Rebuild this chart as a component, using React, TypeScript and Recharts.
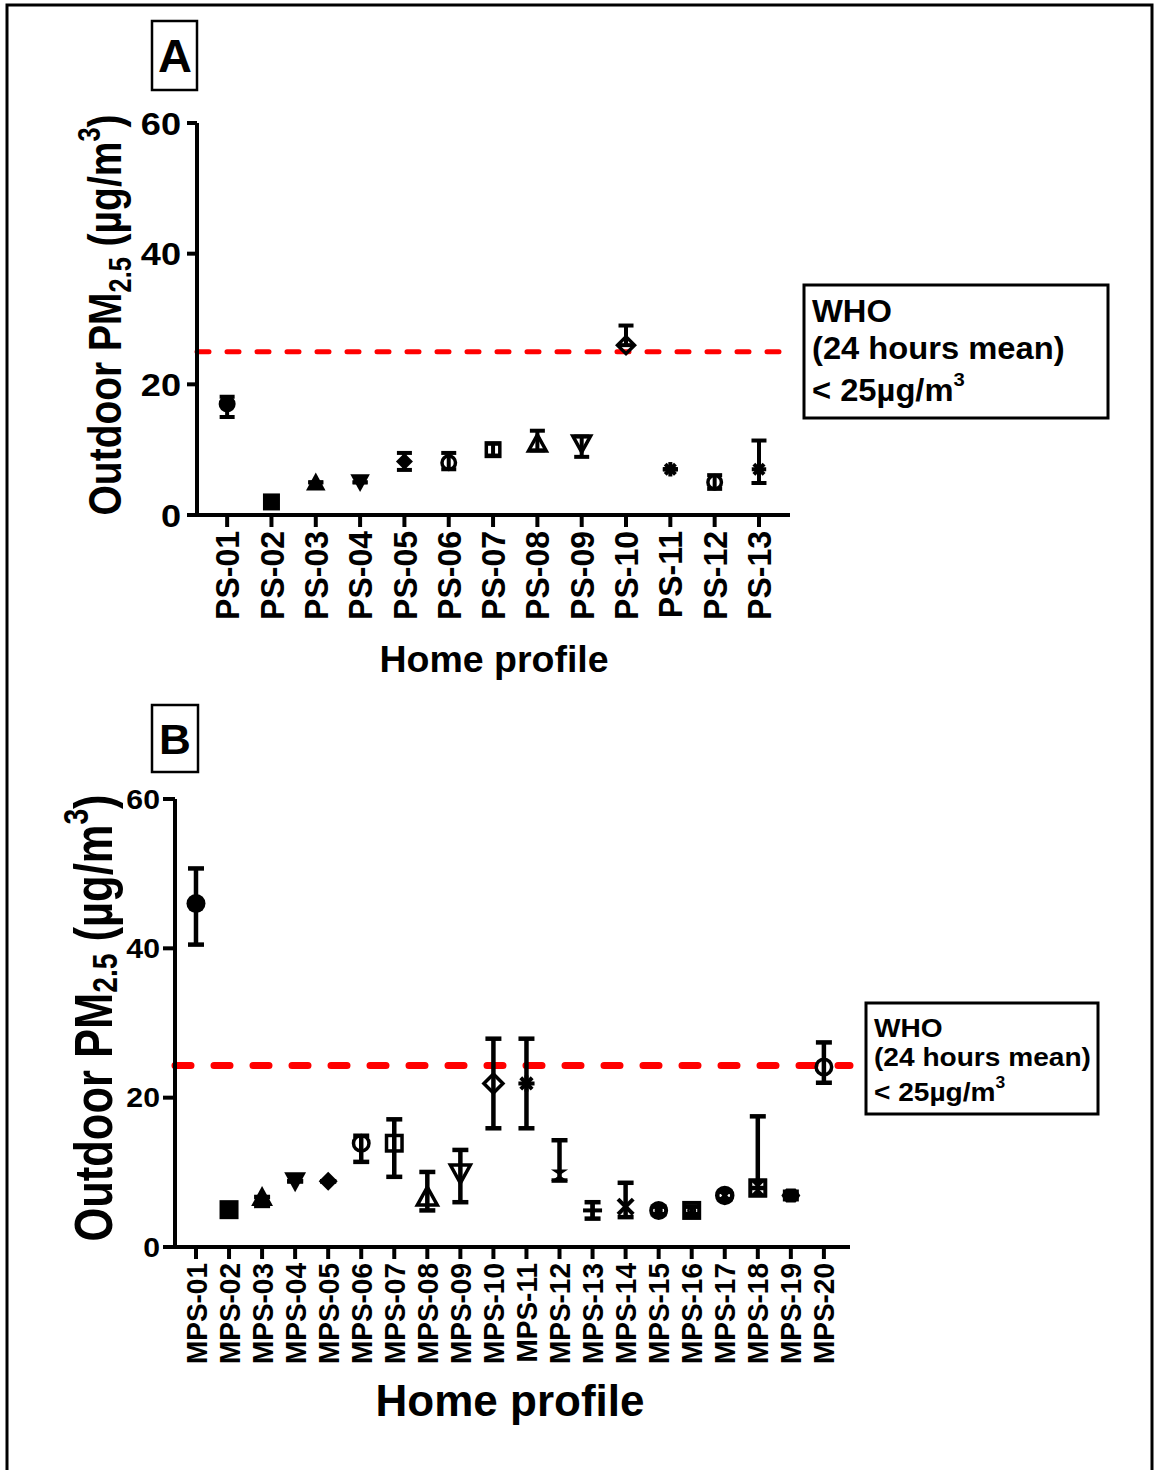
import React from 'react';
import { ScatterChart, Scatter, XAxis, YAxis, ErrorBar, ReferenceLine } from 'recharts';

// ---------- Panel A data ----------
const CATEGORIES_A = ['PS-01', 'PS-02', 'PS-03', 'PS-04', 'PS-05', 'PS-06', 'PS-07', 'PS-08', 'PS-09', 'PS-10', 'PS-11', 'PS-12', 'PS-13'];
const MEANS_A = [17.0, 2.0, 5.0, 5.0, 8.2, 8.0, 10.0, 10.9, 11.0, 26.0, 7.0, 5.0, 7.0];
const ERR_LOW_A = [2.0, 0, 0, 0, 1.3, 1.0, 0.9, 1.0, 2.1, 0, 0, 1.0, 2.1];
const ERR_HIGH_A = [1.1, 0, 0, 0, 1.3, 1.5, 0.9, 2.0, 1.0, 3.0, 0, 1.1, 4.4];
const Y_TICKS = [0, 20, 40, 60];
const WHO_LIMIT_A = 25;

// ---------- Panel B data ----------
const CATEGORIES_B = ['MPS-01', 'MPS-02', 'MPS-03', 'MPS-04', 'MPS-05', 'MPS-06', 'MPS-07', 'MPS-08', 'MPS-09', 'MPS-10', 'MPS-11', 'MPS-12', 'MPS-13', 'MPS-14', 'MPS-15', 'MPS-16', 'MPS-17', 'MPS-18', 'MPS-19', 'MPS-20'];
const MEANS_B = [46.0, 5.0, 6.7, 8.8, 8.8, 13.9, 13.9, 6.7, 9.9, 21.9, 21.9, 9.6, 4.9, 5.4, 4.9, 4.9, 6.9, 7.9, 6.9, 24.1];
const ERR_LOW_B = [5.5, 0, 1.2, 0, 0, 2.5, 4.5, 1.8, 3.9, 6.0, 6.0, 0.7, 1.1, 1.4, 0.5, 0.5, 0.5, 0, 0.5, 2.1];
const ERR_HIGH_B = [4.7, 0, 0, 0, 0, 1.0, 3.2, 3.35, 3.1, 6.0, 6.0, 4.7, 1.1, 3.2, 0.5, 0.5, 0.5, 9.6, 0.5, 3.3];
const WHO_LIMIT_B = 24.3;

// marker styles (GraphPad-like symbol series)
const SHAPES_A = ['circleF', 'squareF', 'triUpF', 'triDownF', 'diamondF', 'circleO', 'squareO', 'triUpO', 'triDownO', 'diamondO', 'asterisk', 'circleO', 'asterisk'];
const SHAPES_B = ['circleF', 'squareF', 'triUpF', 'triDownF', 'diamondF', 'circleO', 'squareO', 'triUpO', 'triDownO', 'diamondO', 'asterisk', 'hourglass', 'plus', 'cross', 'circleDot', 'squareCircle', 'circleX', 'squareX', 'hexagon', 'circleO'];

const dataA = CATEGORIES_A.map((name, i) => ({ idx: i + 1, name, value: MEANS_A[i], err: [ERR_LOW_A[i], ERR_HIGH_A[i]] }));
const dataB = CATEGORIES_B.map((name, i) => ({ idx: i + 1, name, value: MEANS_B[i], err: [ERR_LOW_B[i], ERR_HIGH_B[i]] }));

const FONT = '"Liberation Sans", Arial, Helvetica, sans-serif';

function Marker({ cx, cy, kind, r }: { cx: number; cy: number; kind: string; r: number }) {
  const sw = 3.5;
  const k = '#000';
  switch (kind) {
    case 'circleF':
      return <circle cx={cx} cy={cy} r={r} fill={k} />;
    case 'circleO':
      return <circle cx={cx} cy={cy} r={r - sw / 2} fill="none" stroke={k} strokeWidth={sw} />;
    case 'squareF':
      return <rect x={cx - r} y={cy - r} width={2 * r} height={2 * r} fill={k} />;
    case 'squareO':
      return <rect x={cx - r + sw / 2} y={cy - r + sw / 2} width={2 * r - sw} height={2 * r - sw} fill="none" stroke={k} strokeWidth={sw} />;
    case 'triUpF':
      return <polygon points={`${cx},${cy - r * 1.15} ${cx + r * 1.15},${cy + r * 0.95} ${cx - r * 1.15},${cy + r * 0.95}`} fill={k} />;
    case 'triDownF':
      return <polygon points={`${cx},${cy + r * 1.15} ${cx + r * 1.15},${cy - r * 0.95} ${cx - r * 1.15},${cy - r * 0.95}`} fill={k} />;
    case 'triUpO':
      return <polygon points={`${cx},${cy - r * 1.05} ${cx + r * 1.05},${cy + r * 0.85} ${cx - r * 1.05},${cy + r * 0.85}`} fill="none" stroke={k} strokeWidth={sw} strokeLinejoin="miter" />;
    case 'triDownO':
      return <polygon points={`${cx},${cy + r * 1.05} ${cx + r * 1.05},${cy - r * 0.85} ${cx - r * 1.05},${cy - r * 0.85}`} fill="none" stroke={k} strokeWidth={sw} strokeLinejoin="miter" />;
    case 'diamondF':
      return <polygon points={`${cx},${cy - r} ${cx + r},${cy} ${cx},${cy + r} ${cx - r},${cy}`} fill={k} />;
    case 'diamondO':
      return <polygon points={`${cx},${cy - r} ${cx + r},${cy} ${cx},${cy + r} ${cx - r},${cy}`} fill="none" stroke={k} strokeWidth={sw} />;
    case 'asterisk': {
      const a = r * 0.85;
      const d = a * 0.7071;
      return (
        <g stroke={k} strokeWidth={4}>
          <line x1={cx - a} y1={cy} x2={cx + a} y2={cy} />
          <line x1={cx} y1={cy - a} x2={cx} y2={cy + a} />
          <line x1={cx - d} y1={cy - d} x2={cx + d} y2={cy + d} />
          <line x1={cx - d} y1={cy + d} x2={cx + d} y2={cy - d} />
        </g>
      );
    }
    case 'hourglass':
      return <polygon points={`${cx - r * 0.9},${cy - r * 0.6} ${cx + r * 0.9},${cy - r * 0.6} ${cx - r * 0.9},${cy + r * 0.6} ${cx + r * 0.9},${cy + r * 0.6}`} fill={k} />;
    case 'plus':
      return (
        <g stroke={k} strokeWidth={4}>
          <line x1={cx - r} y1={cy} x2={cx + r} y2={cy} />
          <line x1={cx} y1={cy - r} x2={cx} y2={cy + r} />
        </g>
      );
    case 'cross':
      return (
        <g stroke={k} strokeWidth={4}>
          <line x1={cx - r * 0.8} y1={cy - r * 0.8} x2={cx + r * 0.8} y2={cy + r * 0.8} />
          <line x1={cx - r * 0.8} y1={cy + r * 0.8} x2={cx + r * 0.8} y2={cy - r * 0.8} />
        </g>
      );
    case 'circleDot':
      return (
        <g>
          <circle cx={cx} cy={cy} r={r - 2} fill="none" stroke={k} strokeWidth={4} />
          <circle cx={cx} cy={cy} r={r * 0.3} fill="none" stroke={k} strokeWidth={2.5} />
        </g>
      );
    case 'squareCircle':
      return (
        <g>
          <rect x={cx - r + 2} y={cy - r + 2} width={2 * r - 4} height={2 * r - 4} fill="none" stroke={k} strokeWidth={4} />
          <circle cx={cx} cy={cy} r={r * 0.35} fill="none" stroke={k} strokeWidth={2.5} />
        </g>
      );
    case 'circleX':
      return (
        <g>
          <circle cx={cx} cy={cy} r={r - 2} fill="none" stroke={k} strokeWidth={4.5} />
          <line x1={cx - r * 0.55} y1={cy - r * 0.55} x2={cx + r * 0.55} y2={cy + r * 0.55} stroke={k} strokeWidth={3.5} />
          <line x1={cx - r * 0.55} y1={cy + r * 0.55} x2={cx + r * 0.55} y2={cy - r * 0.55} stroke={k} strokeWidth={3.5} />
        </g>
      );
    case 'squareX':
      return (
        <g>
          <rect x={cx - r + 2} y={cy - r + 2} width={2 * r - 4} height={2 * r - 4} fill="none" stroke={k} strokeWidth={4} />
          <polygon points={`${cx - r},${cy - r} ${cx + r},${cy - r} ${cx},${cy}`} fill={k} />
          <polygon points={`${cx - r},${cy + r} ${cx + r},${cy + r} ${cx},${cy}`} fill={k} />
        </g>
      );
    case 'hexagon': {
      const pts = [0, 1, 2, 3, 4, 5].map((i) => {
        const ang = (Math.PI / 3) * i;
        return `${cx + r * Math.cos(ang)},${cy + r * 0.85 * Math.sin(ang)}`;
      });
      return <polygon points={pts.join(' ')} fill={k} />;
    }
    default:
      return <circle cx={cx} cy={cy} r={r} fill={k} />;
  }
}

function makeShape(shapes: string[], r: number) {
  return (props: any) => {
    const { cx, cy, payload } = props;
    if (cx == null || cy == null) return <g />;
    return <Marker cx={cx} cy={cy} kind={shapes[payload.idx - 1]} r={r} />;
  };
}

function makeXTick(labels: string[], fontSize: number, sx: number) {
  return (props: any) => {
    const { x, y, payload } = props;
    const label = labels[Math.round(payload.value) - 1];
    if (!label) return <g />;
    return (
      <text
        transform={`translate(${x},${y}) scale(${sx},1) rotate(-90)`}
        textAnchor="end"
        dy="0.36em"
        fontFamily={FONT}
        fontWeight="bold"
        fontSize={fontSize}
        fill="#000"
      >
        {label}
      </text>
    );
  };
}

function makeYTick(fontSize: number, sx: number) {
  return (props: any) => {
    const { x, y, payload } = props;
    return (
      <text
        transform={`translate(${x},${y}) scale(${sx},1)`}
        textAnchor="end"
        dy="0.36em"
        fontFamily={FONT}
        fontWeight="bold"
        fontSize={fontSize}
        fill="#000"
      >
        {payload.value}
      </text>
    );
  };
}

function YLabel({ x, y, fontSize, sx, sub }: { x: number; y: number; fontSize: number; sx: number; sub: number }) {
  return (
    <text
      transform={`translate(${x},${y}) scale(${sx},1) rotate(-90)`}
      textAnchor="middle"
      fontFamily={FONT}
      fontWeight="bold"
      fontSize={fontSize}
      fill="#000"
    >
      <tspan>Outdoor PM</tspan>
      <tspan fontSize={fontSize * 0.65} dy={fontSize * sub}>2.5</tspan>
      <tspan dy={-fontSize * sub}> (µg/m</tspan>
      <tspan fontSize={fontSize * 0.65} dy={-fontSize * 0.45}>3</tspan>
      <tspan dy={fontSize * 0.45}>)</tspan>
    </text>
  );
}

function SText({ x, y, fontSize, sx, anchor, children }: { x: number; y: number; fontSize: number; sx: number; anchor?: string; children: any }) {
  return (
    <text
      transform={`translate(${x},${y}) scale(${sx},1)`}
      textAnchor={anchor || 'start'}
      fontFamily={FONT}
      fontWeight="bold"
      fontSize={fontSize}
      fill="#000"
    >
      {children}
    </text>
  );
}

function WhoBox({ x, y, w, h, fontSize, sx, lines }: { x: number; y: number; w: number; h: number; fontSize: number; sx: number; lines: number[] }) {
  return (
    <g>
      <rect x={x} y={y} width={w} height={h} fill="#fff" stroke="#000" strokeWidth={3} />
      <SText x={x + 8} y={lines[0]} fontSize={fontSize} sx={sx}>WHO</SText>
      <SText x={x + 8} y={lines[1]} fontSize={fontSize} sx={sx}>(24 hours mean)</SText>
      <SText x={x + 8} y={lines[2]} fontSize={fontSize} sx={sx}>
        <tspan>&lt; 25µg/m</tspan>
        <tspan fontSize={fontSize * 0.62} dy={-fontSize * 0.5}>3</tspan>
      </SText>
    </g>
  );
}

export default function App() {
  return (
    <div style={{ position: 'absolute', left: 0, top: 0, width: 1155, height: 1470, background: '#fff', overflow: 'hidden' }}>
      {/* Panel A */}
      <div style={{ position: 'absolute', left: 0, top: 0 }}>
        <ScatterChart width={1155} height={700} margin={{ top: 123, right: 365, bottom: 75, left: 137 }}>
          <XAxis
            type="number"
            dataKey="idx"
            domain={[0.32, 13.7]}
            ticks={CATEGORIES_A.map((_, i) => i + 1)}
            interval={0}
            height={110}
            axisLine={{ stroke: '#000', strokeWidth: 4 }}
            tickLine={{ stroke: '#000', strokeWidth: 4 }}
            tickSize={12}
            tickMargin={4}
            tick={makeXTick(CATEGORIES_A, 32, 1.05)}
          />
          <YAxis
            type="number"
            dataKey="value"
            domain={[0, 60]}
            ticks={Y_TICKS}
            interval={0}
            width={60}
            axisLine={{ stroke: '#000', strokeWidth: 4 }}
            tickLine={{ stroke: '#000', strokeWidth: 4 }}
            tickSize={10}
            tickMargin={6}
            tick={makeYTick(32, 1.13)}
          />
          <ReferenceLine y={WHO_LIMIT_A} stroke="#ff0000" strokeWidth={5} strokeDasharray="12 18" strokeLinecap="round" />
          <Scatter data={dataA} isAnimationActive={false} shape={makeShape(SHAPES_A, 8.5)}>
            <ErrorBar dataKey="err" direction="y" width={7.5} strokeWidth={4} stroke="#000" />
          </Scatter>
        </ScatterChart>
      </div>

      {/* Panel B */}
      <div style={{ position: 'absolute', left: 0, top: 700 }}>
        <ScatterChart width={1155} height={770} margin={{ top: 99, right: 305, bottom: 93, left: 115 }}>
          <XAxis
            type="number"
            dataKey="idx"
            domain={[0.365, 20.79]}
            ticks={CATEGORIES_B.map((_, i) => i + 1)}
            interval={0}
            height={130}
            axisLine={{ stroke: '#000', strokeWidth: 4 }}
            tickLine={{ stroke: '#000', strokeWidth: 4 }}
            tickSize={12}
            tickMargin={4}
            tick={makeXTick(CATEGORIES_B, 28, 1.05)}
          />
          <YAxis
            type="number"
            dataKey="value"
            domain={[0, 60]}
            ticks={Y_TICKS}
            interval={0}
            width={60}
            axisLine={{ stroke: '#000', strokeWidth: 4 }}
            tickLine={{ stroke: '#000', strokeWidth: 4 }}
            tickSize={12}
            tickMargin={3}
            tick={makeYTick(27, 1.12)}
          />
          <ReferenceLine y={WHO_LIMIT_B} stroke="#ff0000" strokeWidth={7} strokeDasharray="16 23" strokeLinecap="round" />
          <Scatter data={dataB} isAnimationActive={false} shape={makeShape(SHAPES_B, 9.5)}>
            <ErrorBar dataKey="err" direction="y" width={8} strokeWidth={4.5} stroke="#000" />
          </Scatter>
        </ScatterChart>
      </div>

      {/* Overlay: frame, panel letters, axis titles, WHO boxes */}
      <svg width={1155} height={1470} style={{ position: 'absolute', left: 0, top: 0, pointerEvents: 'none' }}>
        <path d="M7,1480 V5 H1152 V1480" fill="none" stroke="#000" strokeWidth={3} />
        <rect x={152} y={21} width={45} height={69} fill="none" stroke="#000" strokeWidth={2.5} />
        <SText x={175} y={72} fontSize={47} sx={1} anchor="middle">A</SText>
        <rect x={152} y={705} width={46} height={67} fill="none" stroke="#000" strokeWidth={2.5} />
        <SText x={175} y={754} fontSize={42} sx={1.05} anchor="middle">B</SText>

        <YLabel x={121} y={315} fontSize={39} sx={1.2} sub={0.22} />
        <YLabel x={112} y={1018} fontSize={43.5} sx={1.25} sub={0.1} />

        <SText x={494} y={672} fontSize={37.5} sx={1} anchor="middle">Home profile</SText>
        <SText x={510} y={1416} fontSize={44} sx={1} anchor="middle">Home profile</SText>

        <WhoBox x={804} y={285} w={304} h={133} fontSize={31} sx={1.055} lines={[322, 359, 401]} />
        <WhoBox x={866} y={1003} w={232} h={111} fontSize={26.5} sx={1.06} lines={[1037, 1066, 1101]} />
      </svg>
    </div>
  );
}
